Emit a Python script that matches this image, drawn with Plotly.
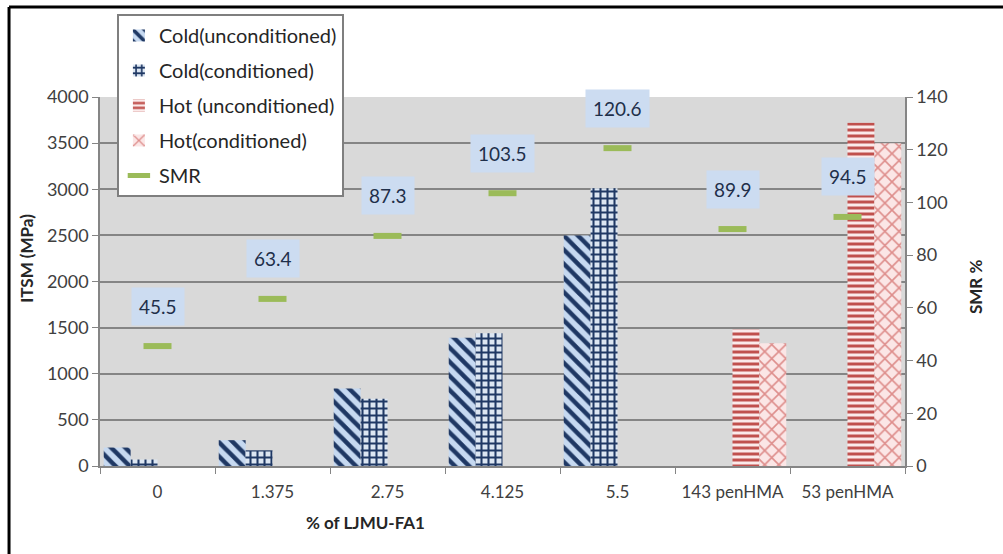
import plotly.graph_objects as go

# Mix designs along the x axis
categories = ["0", "1.375", "2.75", "4.125", "5.5", "143 penHMA", "53 penHMA"]

# ITSM stiffness (MPa) for each series; None where a series has no sample
cold_uncond = [200, 280, 840, 1390, 2500, None, None]
cold_cond = [70, 170, 730, 1440, 3010, None, None]
hot_uncond = [None, None, None, None, None, 1480, 3720]
hot_cond = [None, None, None, None, None, 1330, 3500]

# Stiffness modulus ratio (%)
smr = [45.5, 63.4, 87.3, 103.5, 120.6, 89.9, 94.5]
smr_labels = ["45.5", "63.4", "87.3", "103.5", "120.6", "89.9", "94.5"]

FONT = "Lato"
TICK_COLOR = "#404040"
GRID = "#858585"

fig = go.Figure()

bar_styles = [
    ("Cold(unconditioned)", cold_uncond, "\\", "#1f3864", "#c6d9f1", 10, 0.45),
    ("Cold(conditioned)", cold_cond, "+", "#1f3864", "#dce6f2", 7, 0.5),
    ("Hot (unconditioned)", hot_uncond, "-", "#c0504d", "#fbeaea", 6, 0.5),
    ("Hot(conditioned)", hot_cond, "x", "#de8e8c", "#fbe6e6", 10, 0.3),
]
for i, (name, vals, shape, fg, bg, size, sol) in enumerate(bar_styles):
    fig.add_trace(go.Bar(
        x=categories, y=vals, name=name, legendgroup=f"g{i}",
        marker=dict(
            color=bg,
            line=dict(width=0),
            pattern=dict(shape=shape, fgcolor=fg, bgcolor=bg, size=size,
                         solidity=sol, fillmode="replace"),
        ),
    ))

fig.add_trace(go.Scatter(
    x=categories, y=smr, name="SMR", legendgroup="g4", yaxis="y2",
    mode="markers",
    marker=dict(symbol="line-ew", size=20, color="#9bbb59",
                line=dict(color="#9bbb59", width=6)),
))

# Value callouts above each SMR marker (x given as category index)
for i, (v, t) in enumerate(zip(smr, smr_labels)):
    fig.add_annotation(
        x=i, y=v, xref="x", yref="y2", text=t, showarrow=False, yshift=40,
        bgcolor="#ccdcf1", borderpad=7,
        font=dict(family=FONT, size=19, color="#1f2f4a"),
    )

# Axis titles
title_font = dict(family=FONT, size=17, color="#262626")
fig.add_annotation(x=-0.0907, y=0.564, xref="paper", yref="paper",
                   xanchor="center", yanchor="middle",
                   text="<b>ITSM (MPa)</b>", textangle=-90, showarrow=False,
                   font=title_font)
fig.add_annotation(x=1.087, y=0.485, xref="paper", yref="paper",
                   xanchor="center", yanchor="middle",
                   text="<b>SMR %</b>", textangle=-90, showarrow=False,
                   font=title_font)
fig.add_annotation(x=0.33, y=-0.152, xref="paper", yref="paper",
                   xanchor="center", yanchor="middle",
                   text="<b>% of LJMU-FA1</b>", showarrow=False,
                   font=title_font)

# Outer frame (top and left edges)
frame = dict(color="black", width=3)
fig.add_shape(type="line", xref="paper", yref="paper",
              x0=-0.113, x1=1.13, y0=1.244, y1=1.244, line=frame)
fig.add_shape(type="line", xref="paper", yref="paper",
              x0=-0.113, x1=-0.113, y0=1.244, y1=-0.26, line=frame)

fig.update_layout(
    width=1003, height=554,
    margin=dict(l=100, r=98, t=97, b=88),
    paper_bgcolor="white", plot_bgcolor="#d9d9d9",
    barmode="group", bargap=0.065, bargroupgap=0.0,
    font=dict(family=FONT, size=18, color=TICK_COLOR),
    xaxis=dict(
        type="category", showgrid=False, showline=True, linecolor=GRID,
        linewidth=1.5, ticks="outside", tickson="boundaries", ticklen=6,
        tickcolor=GRID, tickangle=0, ticklabelstandoff=10,
        tickfont=dict(size=17, color=TICK_COLOR), fixedrange=True,
    ),
    yaxis=dict(
        range=[0, 4000], dtick=500, showgrid=True, gridcolor=GRID,
        gridwidth=1.5, showline=True, linecolor=GRID, linewidth=1.5,
        ticks="outside", ticklen=6, tickcolor=GRID, zeroline=False,
        tickfont=dict(size=18, color=TICK_COLOR),
    ),
    yaxis2=dict(
        range=[0, 140], dtick=20, overlaying="y", side="right",
        showgrid=False, showline=True, linecolor=GRID, linewidth=1.5,
        ticks="outside", ticklen=6, tickcolor=GRID, zeroline=False,
        tickfont=dict(size=18, color=TICK_COLOR),
    ),
    legend=dict(
        x=0.021, y=1.225, xanchor="left", yanchor="top",
        bgcolor="white", bordercolor="#7f7f7f", borderwidth=2,
        traceorder="grouped", tracegroupgap=6,
        font=dict(family=FONT, size=20, color="#262626"),
        itemwidth=30,
    ),
    showlegend=True,
)

fig.write_html("out.html")
